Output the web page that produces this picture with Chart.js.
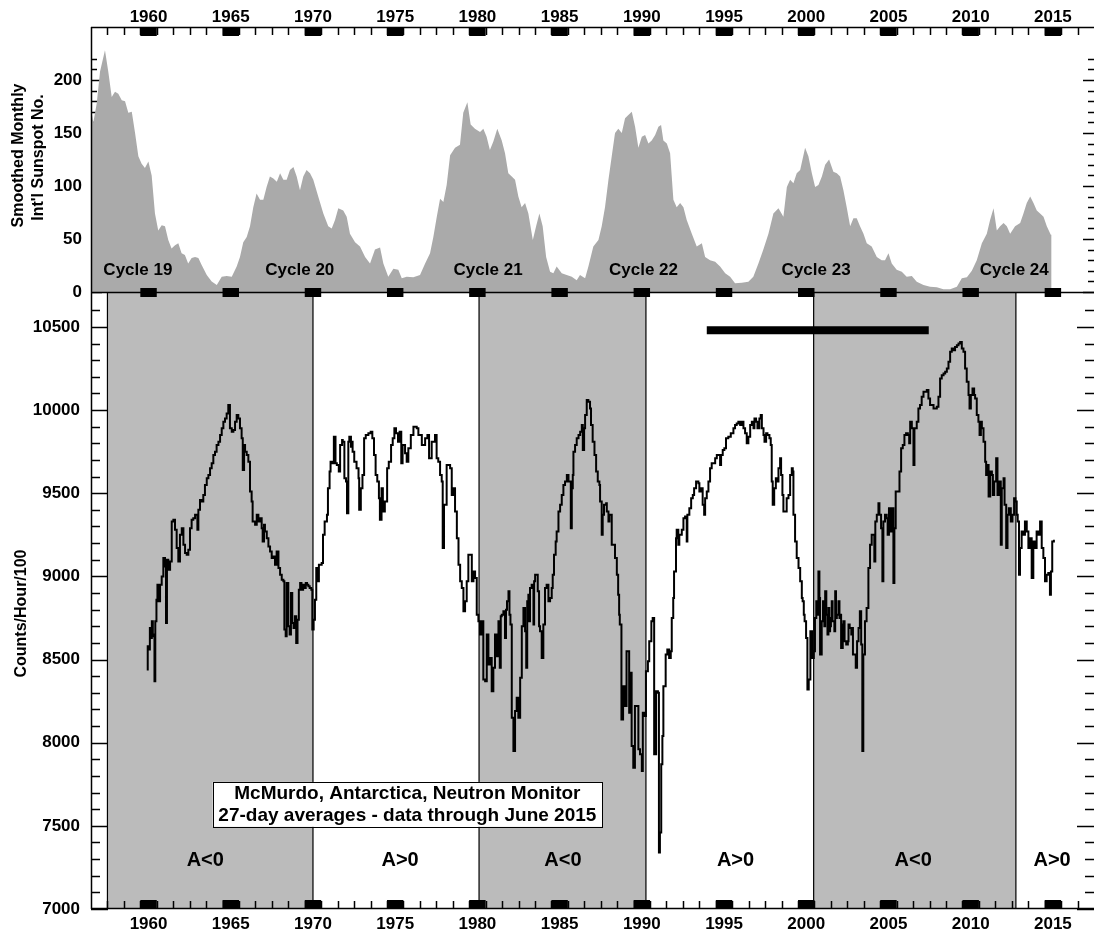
<!DOCTYPE html>
<html>
<head>
<meta charset="utf-8">
<script src="https://cdn.jsdelivr.net/npm/chart.js@4.4.1/dist/chart.umd.min.js"></script>
<style>
  html, body { margin: 0; padding: 0; background: #fff; }
  #wrap { width: 1094px; height: 935px; }
</style>
</head>
<body>
<div id="wrap"><canvas id="myChart" width="1094" height="935"></canvas></div>
<script>
// year labels on the time axis (label sits on the middle of that year)
const tickYears = [1960, 1965, 1970, 1975, 1980, 1985, 1990, 1995, 2000, 2005, 2010, 2015];
const sunTicks = [0, 50, 100, 150, 200];
const countTicks = [7000, 7500, 8000, 8500, 9000, 9500, 10000, 10500];

// smoothed monthly international sunspot number [year, value]
const sunspotData = [
  [1957.00, 165], [1957.04, 169], [1957.14, 160], [1957.35, 178], [1957.55, 208], [1957.85, 228],
  [1958.05, 208], [1958.26, 184], [1958.46, 189], [1958.66, 187], [1958.87, 181], [1959.07, 180],
  [1959.27, 169], [1959.48, 170], [1959.68, 150], [1959.88, 128], [1960.08, 121], [1960.28, 117],
  [1960.49, 123], [1960.69, 110], [1960.89, 74], [1961.09, 58], [1961.30, 63], [1961.50, 62],
  [1961.70, 49], [1961.90, 41], [1962.11, 44], [1962.31, 46], [1962.51, 36.5], [1962.71, 35],
  [1962.91, 27], [1963.12, 32], [1963.33, 33], [1963.53, 32], [1963.73, 25.5], [1964.04, 16],
  [1964.34, 10], [1964.65, 6.6], [1964.95, 14.5], [1965.25, 15], [1965.56, 14.5], [1965.86, 24],
  [1966.06, 33], [1966.26, 47], [1966.47, 52], [1966.67, 62], [1966.87, 80], [1967.07, 93],
  [1967.28, 87], [1967.48, 87], [1967.68, 99], [1967.88, 109], [1968.09, 107], [1968.30, 104],
  [1968.50, 112], [1968.70, 106], [1968.90, 106], [1969.10, 115], [1969.31, 118], [1969.51, 109],
  [1969.71, 96], [1969.91, 109], [1970.11, 115], [1970.32, 112], [1970.52, 106], [1970.82, 90],
  [1971.13, 74], [1971.43, 62], [1971.64, 60], [1971.84, 68], [1972.04, 79], [1972.34, 77],
  [1972.55, 71], [1972.75, 55], [1973.06, 47], [1973.36, 43], [1973.67, 33], [1973.97, 27],
  [1974.27, 40], [1974.58, 42], [1974.78, 27], [1975.08, 14.5], [1975.39, 22], [1975.69, 21],
  [1975.90, 13], [1976.20, 14.5], [1976.60, 14], [1977.01, 16], [1977.32, 27], [1977.62, 36.5],
  [1977.82, 52], [1978.03, 71], [1978.23, 88], [1978.43, 85], [1978.63, 101], [1978.84, 129],
  [1979.14, 136], [1979.44, 139], [1979.64, 169], [1979.89, 179], [1980.09, 158], [1980.35, 154],
  [1980.66, 151], [1980.86, 154], [1981.06, 146.5], [1981.26, 134], [1981.47, 142], [1981.71, 154],
  [1981.98, 143], [1982.18, 131], [1982.38, 112], [1982.59, 109], [1982.79, 106], [1982.99, 90],
  [1983.19, 80], [1983.40, 84], [1983.60, 74], [1983.87, 49], [1984.07, 62], [1984.27, 74],
  [1984.47, 62], [1984.68, 33], [1984.92, 19], [1985.12, 17.6], [1985.32, 24], [1985.63, 17.6],
  [1985.93, 16], [1986.24, 14.5], [1986.54, 11], [1986.74, 16], [1987.05, 13], [1987.25, 24],
  [1987.55, 43], [1987.86, 49], [1988.06, 62], [1988.26, 80], [1988.47, 106], [1988.67, 128],
  [1988.87, 150], [1989.07, 154], [1989.28, 150], [1989.48, 164], [1989.68, 167], [1989.89, 170],
  [1990.09, 156], [1990.29, 136], [1990.50, 146.5], [1990.70, 148], [1990.90, 140], [1991.10, 143],
  [1991.31, 148], [1991.51, 156], [1991.67, 157.5], [1991.81, 143], [1992.02, 140], [1992.22, 131],
  [1992.42, 87], [1992.62, 80], [1992.83, 84], [1993.03, 80], [1993.23, 68], [1993.54, 55],
  [1993.84, 43], [1994.15, 46], [1994.35, 33], [1994.65, 30], [1994.96, 28.6], [1995.26, 24],
  [1995.57, 17.6], [1995.87, 14.5], [1996.17, 8.2], [1996.58, 8.8], [1996.98, 9.7], [1997.28, 14.5],
  [1997.59, 27], [1997.89, 40], [1998.20, 55], [1998.50, 74], [1998.81, 79], [1999.11, 71],
  [1999.32, 99], [1999.52, 106], [1999.72, 102.5], [1999.92, 112], [2000.13, 115], [2000.43, 136],
  [2000.63, 128], [2000.84, 112], [2001.04, 99], [2001.24, 101], [2001.45, 109], [2001.65, 120],
  [2001.89, 125], [2002.15, 113.5], [2002.36, 112], [2002.56, 109], [2002.76, 96], [2002.96, 80],
  [2003.17, 62], [2003.37, 69.5], [2003.57, 69.5], [2003.77, 62], [2003.98, 55], [2004.18, 46],
  [2004.48, 43], [2004.79, 33], [2005.09, 30], [2005.29, 30], [2005.50, 36.5], [2005.70, 27],
  [2006.00, 21], [2006.31, 19], [2006.61, 14.5], [2006.92, 15], [2007.22, 9.7], [2007.63, 6.6],
  [2008.03, 5], [2008.44, 4.4], [2008.84, 2.5], [2009.25, 2.5], [2009.66, 5], [2009.96, 13],
  [2010.27, 14], [2010.57, 20], [2010.87, 30], [2011.18, 46], [2011.48, 55], [2011.68, 68],
  [2011.89, 79], [2012.09, 58], [2012.29, 62], [2012.50, 65], [2012.70, 62], [2012.90, 55],
  [2013.20, 62], [2013.51, 65], [2013.71, 74], [2013.91, 84], [2014.12, 90], [2014.32, 84],
  [2014.52, 77], [2014.72, 74], [2014.93, 71], [2015.13, 62], [2015.37, 54], [2015.42, 54]
];

// McMurdo neutron monitor, 27-day averages [year, counts/hour/100]
const neutronData = [
  [1960.39, 8440], [1960.45, 8580], [1960.52, 8560], [1960.58, 8690], [1960.64, 8630], [1960.70, 8730],
  [1960.76, 8650], [1960.82, 8640], [1960.86, 8370], [1960.91, 8730], [1960.98, 8860], [1961.04, 8950],
  [1961.10, 8850], [1961.20, 8950], [1961.30, 9000], [1961.40, 9110], [1961.50, 9060], [1961.56, 8720],
  [1961.62, 9100], [1961.70, 9040], [1961.81, 9090], [1961.91, 9330], [1962.01, 9340], [1962.11, 9280],
  [1962.21, 9170], [1962.31, 9090], [1962.41, 9250], [1962.52, 9290], [1962.62, 9190], [1962.72, 9140],
  [1962.82, 9130], [1962.92, 9160], [1963.02, 9290], [1963.12, 9340], [1963.22, 9350], [1963.33, 9370],
  [1963.47, 9280], [1963.53, 9400], [1963.63, 9460], [1963.73, 9450], [1963.83, 9490], [1963.93, 9550],
  [1964.04, 9590], [1964.14, 9610], [1964.24, 9650], [1964.34, 9680], [1964.44, 9730], [1964.54, 9750],
  [1964.64, 9790], [1964.75, 9810], [1964.85, 9850], [1964.95, 9890], [1965.05, 9930], [1965.15, 9950],
  [1965.25, 9980], [1965.35, 10030], [1965.45, 9890], [1965.56, 9870], [1965.66, 9880], [1965.76, 9930],
  [1965.86, 9970], [1965.96, 9950], [1966.06, 9890], [1966.16, 9830], [1966.23, 9640], [1966.31, 9790],
  [1966.37, 9750], [1966.47, 9730], [1966.57, 9690], [1966.67, 9510], [1966.77, 9450], [1966.83, 9330],
  [1966.98, 9310], [1967.08, 9370], [1967.18, 9330], [1967.28, 9350], [1967.38, 9290], [1967.44, 9210],
  [1967.52, 9310], [1967.58, 9270], [1967.69, 9230], [1967.79, 9180], [1967.89, 9150], [1967.99, 9110],
  [1968.09, 9120], [1968.19, 9070], [1968.29, 9150], [1968.40, 9050], [1968.50, 9010], [1968.60, 8980],
  [1968.70, 8970], [1968.76, 8680], [1968.84, 8640], [1968.90, 8960], [1969.00, 8700], [1969.08, 8650],
  [1969.16, 8900], [1969.24, 8720], [1969.32, 8690], [1969.40, 8760], [1969.48, 8600], [1969.56, 8740],
  [1969.64, 8920], [1969.72, 8960], [1969.80, 8920], [1969.90, 8950], [1969.98, 8930], [1970.06, 8960],
  [1970.14, 8950], [1970.22, 8940], [1970.30, 8930], [1970.40, 8920], [1970.46, 8680], [1970.54, 8740],
  [1970.62, 8860], [1970.70, 9050], [1970.78, 8970], [1970.86, 9070], [1971.03, 9080], [1971.11, 9250],
  [1971.21, 9330], [1971.35, 9370], [1971.41, 9530], [1971.51, 9630], [1971.57, 9690], [1971.67, 9680],
  [1971.77, 9840], [1971.87, 9680], [1971.95, 9670], [1972.07, 9630], [1972.15, 9790], [1972.27, 9820],
  [1972.31, 9810], [1972.41, 9590], [1972.51, 9570], [1972.57, 9380], [1972.65, 9810], [1972.71, 9840],
  [1972.81, 9780], [1972.87, 9810], [1972.91, 9750], [1973.01, 9690], [1973.15, 9650], [1973.27, 9590],
  [1973.31, 9400], [1973.41, 9530], [1973.51, 9610], [1973.61, 9830], [1973.71, 9850], [1973.87, 9860],
  [1974.01, 9870], [1974.11, 9830], [1974.21, 9730], [1974.31, 9610], [1974.41, 9570], [1974.51, 9470],
  [1974.57, 9340], [1974.67, 9530], [1974.75, 9390], [1974.87, 9450], [1975.01, 9650], [1975.11, 9690],
  [1975.25, 9790], [1975.35, 9830], [1975.45, 9890], [1975.55, 9860], [1975.67, 9810], [1975.77, 9870],
  [1975.87, 9680], [1975.95, 9790], [1976.10, 9740], [1976.20, 9690], [1976.30, 9770], [1976.45, 9850],
  [1976.61, 9900], [1976.81, 9890], [1976.91, 9850], [1977.12, 9790], [1977.32, 9830], [1977.46, 9850],
  [1977.56, 9710], [1977.72, 9810], [1977.92, 9850], [1978.02, 9710], [1978.12, 9690], [1978.23, 9610],
  [1978.33, 9570], [1978.39, 9170], [1978.47, 9430], [1978.63, 9670], [1978.84, 9650], [1978.94, 9490],
  [1979.04, 9530], [1979.14, 9390], [1979.25, 9230], [1979.35, 9070], [1979.45, 8970], [1979.55, 8930],
  [1979.65, 8790], [1979.75, 8850], [1979.85, 8970], [1979.95, 9130], [1980.06, 9130], [1980.16, 8970],
  [1980.26, 9030], [1980.36, 8990], [1980.46, 8770], [1980.56, 8730], [1980.66, 8650], [1980.76, 8730],
  [1980.86, 8380], [1980.97, 8370], [1981.07, 8650], [1981.17, 8470], [1981.27, 8510], [1981.37, 8310],
  [1981.47, 8450], [1981.57, 8650], [1981.68, 8520], [1981.78, 8730], [1981.86, 8450], [1981.92, 8760],
  [1981.98, 8770], [1982.08, 8790], [1982.18, 8630], [1982.24, 8800], [1982.30, 8850], [1982.39, 8910],
  [1982.45, 8770], [1982.51, 8710], [1982.59, 8150], [1982.69, 7950], [1982.79, 8190], [1982.89, 8270],
  [1982.99, 8150], [1983.10, 8390], [1983.20, 8700], [1983.30, 8810], [1983.40, 8670], [1983.47, 8450],
  [1983.53, 8850], [1983.60, 8890], [1983.65, 8730], [1983.70, 8930], [1983.80, 8950], [1983.91, 8710],
  [1983.95, 8970], [1984.01, 9010], [1984.11, 9010], [1984.17, 8910], [1984.25, 8700], [1984.31, 8670],
  [1984.41, 8510], [1984.51, 8710], [1984.61, 8930], [1984.71, 8950], [1984.82, 8850], [1984.92, 8870],
  [1985.02, 8930], [1985.08, 9010], [1985.16, 9130], [1985.26, 9210], [1985.32, 9270], [1985.43, 9390],
  [1985.53, 9430], [1985.63, 9490], [1985.73, 9550], [1985.83, 9570], [1985.94, 9610], [1986.04, 9570],
  [1986.14, 9570], [1986.18, 9290], [1986.24, 9530], [1986.30, 9610], [1986.34, 9750], [1986.44, 9790],
  [1986.54, 9830], [1986.65, 9850], [1986.75, 9870], [1986.85, 9910], [1986.91, 9760], [1986.99, 9890],
  [1987.05, 9970], [1987.15, 10060], [1987.25, 10050], [1987.35, 10010], [1987.41, 9910], [1987.51, 9810],
  [1987.62, 9730], [1987.72, 9630], [1987.82, 9570], [1987.92, 9550], [1987.96, 9450], [1988.06, 9250],
  [1988.12, 9370], [1988.20, 9430], [1988.33, 9440], [1988.37, 9390], [1988.47, 9330], [1988.53, 9370],
  [1988.67, 9190], [1988.77, 9190], [1988.87, 9110], [1988.98, 9010], [1989.06, 8890], [1989.12, 8770],
  [1989.16, 8710], [1989.26, 8140], [1989.36, 8340], [1989.46, 8220], [1989.57, 8550], [1989.67, 8550],
  [1989.73, 8180], [1989.80, 8420], [1989.88, 7980], [1989.98, 7850], [1990.08, 8220], [1990.19, 8220],
  [1990.29, 7960], [1990.39, 7930], [1990.50, 7830], [1990.56, 8180], [1990.67, 8160], [1990.75, 8430],
  [1990.87, 8490], [1990.95, 8610], [1991.08, 8730], [1991.16, 8750], [1991.25, 7930], [1991.37, 8310],
  [1991.48, 8300], [1991.54, 7340], [1991.60, 7460], [1991.68, 7870], [1991.75, 8040], [1991.81, 8340],
  [1991.95, 8530], [1992.05, 8560], [1992.16, 8510], [1992.26, 8550], [1992.32, 8750], [1992.41, 8870],
  [1992.46, 9030], [1992.58, 9230], [1992.62, 9280], [1992.72, 9190], [1992.78, 9250], [1992.93, 9280],
  [1993.03, 9350], [1993.13, 9360], [1993.23, 9210], [1993.27, 9370], [1993.39, 9410], [1993.50, 9470],
  [1993.60, 9490], [1993.68, 9530], [1993.80, 9570], [1993.94, 9560], [1994.00, 9510], [1994.10, 9530],
  [1994.20, 9430], [1994.29, 9370], [1994.35, 9470], [1994.45, 9510], [1994.55, 9570], [1994.65, 9650],
  [1994.75, 9680], [1994.85, 9680], [1994.96, 9710], [1995.06, 9730], [1995.16, 9730], [1995.26, 9670],
  [1995.32, 9730], [1995.42, 9760], [1995.52, 9770], [1995.62, 9830], [1995.76, 9840], [1995.91, 9860],
  [1996.07, 9890], [1996.17, 9910], [1996.27, 9920], [1996.37, 9930], [1996.48, 9910], [1996.58, 9930],
  [1996.68, 9890], [1996.78, 9860], [1996.88, 9800], [1996.98, 9840], [1997.09, 9910], [1997.19, 9930],
  [1997.29, 9890], [1997.35, 9950], [1997.45, 9930], [1997.53, 9890], [1997.65, 9950], [1997.73, 9970],
  [1997.80, 9890], [1997.90, 9850], [1997.96, 9810], [1998.06, 9860], [1998.14, 9850], [1998.26, 9830],
  [1998.34, 9790], [1998.40, 9570], [1998.46, 9430], [1998.55, 9530], [1998.65, 9590], [1998.71, 9570],
  [1998.81, 9650], [1998.91, 9710], [1998.97, 9610], [1999.05, 9490], [1999.11, 9390], [1999.21, 9390],
  [1999.31, 9470], [1999.42, 9490], [1999.52, 9610], [1999.62, 9650], [1999.68, 9630], [1999.72, 9370],
  [1999.82, 9210], [1999.92, 9110], [2000.03, 9050], [2000.13, 8970], [2000.23, 8870], [2000.28, 8850],
  [2000.35, 8770], [2000.40, 8730], [2000.49, 8630], [2000.57, 8320], [2000.65, 8380], [2000.75, 8670],
  [2000.86, 8510], [2000.96, 8550], [2001.03, 8750], [2001.11, 8850], [2001.18, 8770], [2001.24, 9030],
  [2001.30, 8870], [2001.34, 8530], [2001.44, 8730], [2001.52, 8850], [2001.60, 8700], [2001.65, 8910],
  [2001.72, 8770], [2001.79, 8650], [2001.85, 8810], [2001.90, 8670], [2001.95, 8700], [2002.00, 8750],
  [2002.05, 8850], [2002.10, 8730], [2002.21, 8670], [2002.26, 8910], [2002.31, 8750], [2002.36, 8770],
  [2002.46, 8850], [2002.52, 8750], [2002.56, 8770], [2002.62, 8570], [2002.72, 8710], [2002.76, 8730],
  [2002.83, 8610], [2002.93, 8590], [2003.03, 8610], [2003.07, 8710], [2003.14, 8690], [2003.24, 8650],
  [2003.27, 8690], [2003.34, 8530], [2003.51, 8450], [2003.59, 8610], [2003.68, 8690], [2003.76, 8790],
  [2003.84, 8590], [2003.91, 7950], [2003.97, 8530], [2004.07, 8730], [2004.17, 8810], [2004.28, 9050],
  [2004.38, 9190], [2004.48, 9250], [2004.58, 9250], [2004.64, 9090], [2004.70, 9330], [2004.79, 9370],
  [2004.89, 9440], [2004.95, 9370], [2005.05, 9290], [2005.13, 8970], [2005.19, 9330], [2005.29, 9370],
  [2005.39, 9350], [2005.45, 9250], [2005.53, 9410], [2005.64, 9270], [2005.74, 9410], [2005.80, 8960],
  [2005.86, 9290], [2005.94, 9510], [2006.06, 9510], [2006.17, 9630], [2006.27, 9770], [2006.37, 9790],
  [2006.47, 9850], [2006.57, 9860], [2006.68, 9850], [2006.76, 9800], [2006.82, 9930], [2006.92, 9890],
  [2007.02, 9670], [2007.08, 9890], [2007.22, 9930], [2007.32, 10010], [2007.42, 10030], [2007.52, 10080],
  [2007.63, 10110], [2007.73, 10110], [2007.83, 10120], [2007.93, 10070], [2008.03, 10030], [2008.24, 10010],
  [2008.44, 10020], [2008.54, 10080], [2008.64, 10190], [2008.74, 10210], [2008.85, 10220], [2008.95, 10230],
  [2009.05, 10250], [2009.15, 10290], [2009.25, 10350], [2009.35, 10370], [2009.45, 10360], [2009.55, 10380],
  [2009.66, 10390], [2009.76, 10400], [2009.86, 10410], [2009.96, 10370], [2010.06, 10350], [2010.16, 10250],
  [2010.26, 10170], [2010.37, 10090], [2010.43, 10010], [2010.51, 10090], [2010.61, 10130], [2010.71, 10090],
  [2010.77, 10070], [2010.87, 9970], [2010.97, 9930], [2011.04, 9850], [2011.12, 9930], [2011.18, 9890],
  [2011.28, 9810], [2011.38, 9690], [2011.44, 9610], [2011.52, 9670], [2011.59, 9480], [2011.69, 9630],
  [2011.79, 9610], [2011.85, 9490], [2011.93, 9570], [2012.05, 9710], [2012.13, 9490], [2012.25, 9570],
  [2012.33, 9190], [2012.39, 9530], [2012.50, 9590], [2012.56, 9430], [2012.66, 9170], [2012.74, 9370],
  [2012.82, 9410], [2012.94, 9330], [2013.04, 9370], [2013.14, 9470], [2013.22, 9450], [2013.30, 9370],
  [2013.36, 9330], [2013.44, 9010], [2013.50, 9170], [2013.60, 9270], [2013.70, 9250], [2013.80, 9330],
  [2013.91, 9270], [2014.01, 9170], [2014.11, 9230], [2014.21, 8990], [2014.31, 9210], [2014.41, 9170],
  [2014.51, 9270], [2014.62, 9250], [2014.72, 9330], [2014.82, 9170], [2014.92, 9110], [2015.02, 8970],
  [2015.12, 9010], [2015.22, 9020], [2015.32, 8890], [2015.38, 9030], [2015.46, 9210], [2015.56, 9220]
];

// A<0 solar magnetic polarity periods (shaded)
const negativeBands = [[1958.0, 1970.5], [1980.6, 1990.75], [2000.95, 2013.25]];
const polarityLabels = [
  ['A<0', 1963.95], ['A>0', 1975.8], ['A<0', 1985.7],
  ['A>0', 1996.2], ['A<0', 2007.0], ['A>0', 2015.45]
];
const cycleLabels = [
  ['Cycle 19', 1959.85], ['Cycle 20', 1969.7], ['Cycle 21', 1981.15],
  ['Cycle 22', 1990.6], ['Cycle 23', 2001.1], ['Cycle 24', 2013.15]
];
const barYears = [1994.45, 2007.95];
const barLevel = 10480;

const FONT = "'Liberation Sans', Arial, Helvetica, sans-serif";

const panelFrame = {
  id: 'panelFrame',
  beforeDatasetsDraw(chart) {
    const { ctx, chartArea: a, scales: { x, ySun, yNm } } = chart;
    ctx.save();
    // polarity bands
    for (const [s, e] of negativeBands) {
      const x0 = x.getPixelForValue(s);
      const x1 = x.getPixelForValue(e);
      ctx.fillStyle = '#bbbbbb';
      ctx.fillRect(x0, yNm.top, x1 - x0, yNm.bottom - yNm.top);
      ctx.strokeStyle = '#000';
      ctx.lineWidth = 1.2;
      ctx.beginPath();
      ctx.moveTo(x0, yNm.top); ctx.lineTo(x0, yNm.bottom);
      ctx.moveTo(x1, yNm.top); ctx.lineTo(x1, yNm.bottom);
      ctx.stroke();
    }
    // y ticks, both sides, pointing inward
    ctx.strokeStyle = '#000';
    ctx.lineWidth = 1.5;
    ctx.beginPath();
    for (let v = 7000; v <= 10600; v += 100) {
      const py = Math.round(yNm.getPixelForValue(v)) + 0.5;
      const len = v % 500 === 0 ? 17 : 9;
      ctx.moveTo(a.left, py); ctx.lineTo(a.left + len, py);
      ctx.moveTo(a.right, py); ctx.lineTo(a.right - len, py);
    }
    for (let v = 0; v <= 220; v += 10) {
      const py = Math.round(ySun.getPixelForValue(v)) + 0.5;
      const len = v % 50 === 0 ? 11 : 6;
      ctx.moveTo(a.left, py); ctx.lineTo(a.left + len, py);
      ctx.moveTo(a.right, py); ctx.lineTo(a.right - len, py);
    }
    ctx.stroke();
    ctx.restore();
  },
  afterDatasetsDraw(chart) {
    const { ctx, chartArea: a, scales: { x, ySun, yNm } } = chart;
    const mid = Math.round(yNm.top) + 0.5;
    ctx.save();
    ctx.strokeStyle = '#000';
    ctx.lineWidth = 1.5;
    ctx.beginPath();
    ctx.moveTo(a.left, a.top + 0.5); ctx.lineTo(a.right, a.top + 0.5);
    ctx.moveTo(a.left, mid); ctx.lineTo(a.right, mid);
    ctx.moveTo(a.left, a.bottom - 0.5); ctx.lineTo(a.right, a.bottom - 0.5);
    ctx.moveTo(a.left + 0.5, a.top); ctx.lineTo(a.left + 0.5, a.bottom);
    // yearly ticks on top and bottom
    for (let yr = 1958; yr <= 2017; yr++) {
      const px = Math.round(x.getPixelForValue(yr)) + 0.5;
      ctx.moveTo(px, a.top); ctx.lineTo(px, a.top + 8);
      ctx.moveTo(px, a.bottom); ctx.lineTo(px, a.bottom - 8);
    }
    ctx.stroke();
    // five-year blocks
    ctx.fillStyle = '#000';
    for (const yr of tickYears) {
      const x0 = x.getPixelForValue(yr);
      const w = x.getPixelForValue(yr + 1) - x0;
      ctx.fillRect(x0, a.top, w, 9);
      ctx.fillRect(x0, mid - 4.5, w, 9);
      ctx.fillRect(x0, a.bottom - 9, w, 9);
    }

    ctx.textAlign = 'center';
    ctx.textBaseline = 'middle';
    ctx.font = 'bold 17px ' + FONT;
    for (const [t, yr] of cycleLabels) {
      ctx.fillText(t, x.getPixelForValue(yr), ySun.getPixelForValue(20));
    }
    ctx.font = 'bold 20px ' + FONT;
    for (const [t, yr] of polarityLabels) {
      ctx.fillText(t, x.getPixelForValue(yr), yNm.getPixelForValue(7294));
    }

    // station note
    const bx0 = x.getPixelForValue(1964.4), bx1 = x.getPixelForValue(1988.08);
    const by0 = yNm.getPixelForValue(7764), by1 = yNm.getPixelForValue(7494);
    ctx.fillStyle = '#fff';
    ctx.fillRect(bx0, by0, bx1 - bx0, by1 - by0);
    ctx.lineWidth = 1;
    ctx.strokeRect(Math.round(bx0) + 0.5, Math.round(by0) + 0.5, Math.round(bx1 - bx0), Math.round(by1 - by0));
    ctx.fillStyle = '#000';
    ctx.font = 'bold 19px ' + FONT;
    const cx = (bx0 + bx1) / 2;
    ctx.fillText('McMurdo, Antarctica, Neutron Monitor', cx, yNm.getPixelForValue(7694));
    ctx.fillText('27-day averages - data through June 2015', cx, yNm.getPixelForValue(7562));

    // axis titles
    ctx.font = 'bold 16px ' + FONT;
    ctx.save();
    ctx.translate(22, (yNm.top + yNm.bottom) / 2 + 13);
    ctx.rotate(-Math.PI / 2);
    ctx.fillText('Counts/Hour/100', 0, 0);
    ctx.restore();
    ctx.save();
    ctx.translate(18.5, (ySun.top + ySun.bottom) / 2 - 4);
    ctx.rotate(-Math.PI / 2);
    ctx.fillText('Smoothed Monthly', 0, 0);
    ctx.restore();
    ctx.save();
    ctx.translate(38.5, (ySun.top + ySun.bottom) / 2 - 2);
    ctx.rotate(-Math.PI / 2);
    ctx.fillText("Int'l Sunspot No.", 0, 0);
    ctx.restore();
    ctx.restore();
  }
};

const yearAxis = (position, height, pad) => ({
  type: 'linear',
  position: position,
  min: 1957,
  max: 2018,
  grid: { display: false, drawTicks: false },
  border: { display: false },
  ticks: {
    color: '#000',
    font: { family: FONT, size: 17, weight: 'bold', lineHeight: 1 },
    padding: pad,
    autoSkip: false,
    maxRotation: 0,
    callback: (v) => String(Math.floor(v))
  },
  afterBuildTicks: (scale) => { scale.ticks = tickYears.map(y => ({ value: y + 0.5 })); },
  afterFit: (scale) => { scale.height = height; }
});

const valueTicks = (pad) => ({
  color: '#000',
  font: { family: FONT, size: 17, weight: 'bold' },
  padding: pad,
  callback: (v) => String(v)
});

const ctx = document.getElementById('myChart').getContext('2d');
const myChart = new Chart(ctx, {
  type: 'line',
  data: {
    datasets: [
      {
        data: sunspotData.map(([x, y]) => ({ x, y })),
        yAxisID: 'ySun',
        fill: 'origin',
        backgroundColor: '#aaaaaa',
        borderWidth: 0,
        pointRadius: 0,
        tension: 0
      },
      {
        data: neutronData.map(([x, y]) => ({ x, y })),
        yAxisID: 'yNm',
        stepped: true,
        fill: false,
        borderColor: '#000',
        borderWidth: 2,
        pointRadius: 0
      },
      {
        data: barYears.map(x => ({ x, y: barLevel })),
        yAxisID: 'yNm',
        fill: false,
        borderColor: '#000',
        borderWidth: 8,
        borderCapStyle: 'butt',
        pointRadius: 0
      }
    ]
  },
  options: {
    responsive: false,
    animation: false,
    events: [],
    layout: { padding: 0 },
    plugins: {
      legend: { display: false },
      title: { display: false },
      tooltip: { enabled: false }
    },
    scales: {
      x: yearAxis('bottom', 26, 7),
      xTop: yearAxis('top', 27, 1),
      ySun: {
        type: 'linear',
        position: 'left',
        stack: 'panels',
        stackWeight: 265,
        weight: 1,
        min: 0,
        max: 250,
        grid: { display: false, drawTicks: false },
        border: { display: false },
        ticks: valueTicks(9),
        afterBuildTicks: (scale) => { scale.ticks = sunTicks.map(v => ({ value: v })); },
        afterFit: (scale) => { scale.width = 91; }
      },
      yNm: {
        type: 'linear',
        position: 'left',
        stack: 'panels',
        stackWeight: 617,
        weight: 0,
        min: 7000,
        max: 10710,
        grid: { display: false, drawTicks: false },
        border: { display: false },
        ticks: valueTicks(11),
        afterBuildTicks: (scale) => { scale.ticks = countTicks.map(v => ({ value: v })); },
        afterFit: (scale) => { scale.width = 91; }
      }
    }
  },
  plugins: [panelFrame]
});
</script>
</body>
</html>
